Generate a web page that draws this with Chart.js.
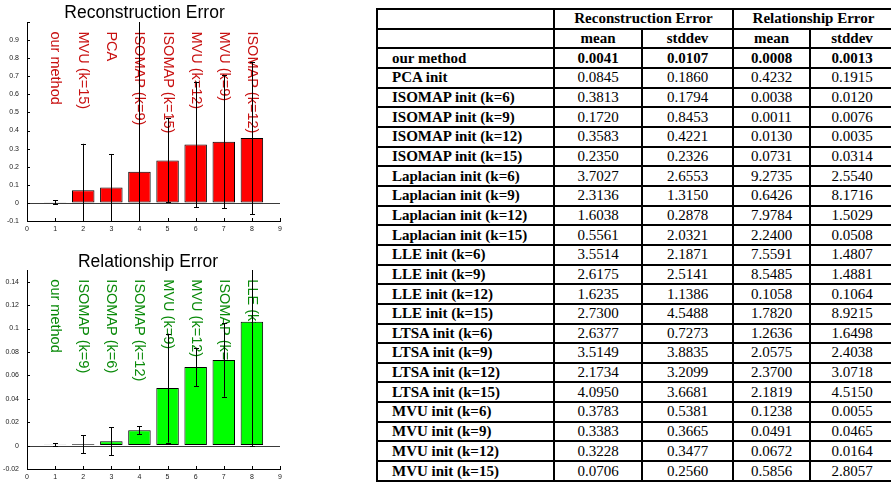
<!DOCTYPE html>
<html>
<head>
<meta charset="utf-8">
<script src="https://cdn.jsdelivr.net/npm/chart.js@4.4.1/dist/chart.umd.min.js"></script>
<style>
  html, body { margin: 0; padding: 0; background: #fff; width: 891px; height: 485px; overflow: hidden; }
  canvas { position: absolute; left: 0; }
  #recChart { top: 0; }
  #relChart { top: 240px; }
  table {
    position: absolute; left: 376px; top: 8px; width: 517px; height: 474px;
    border-collapse: collapse; table-layout: fixed;
    font-family: "Liberation Serif", "Times New Roman", serif; font-size: 15px; color: #000;
  }
  td { border: 2px solid #000; padding: 0; text-align: center; vertical-align: middle; line-height: 15px; }
  td.name { text-align: left; padding-left: 14px; font-weight: bold; }
  tr.head td { font-weight: bold; }
  tr.best td { font-weight: bold; }
</style>
</head>
<body>
<canvas id="recChart" width="290" height="240"></canvas>
<canvas id="relChart" width="290" height="245"></canvas>
<table id="results">
  <colgroup>
    <col style="width:177px"><col style="width:88px"><col style="width:91px"><col style="width:77px"><col style="width:84px">
  </colgroup>
  <tbody></tbody>
</table>
<script>
// Results table: one row per initialisation
const methods = [
  'our method', 'PCA init',
  'ISOMAP init (k=6)', 'ISOMAP init (k=9)', 'ISOMAP init (k=12)', 'ISOMAP init (k=15)',
  'Laplacian init (k=6)', 'Laplacian init (k=9)', 'Laplacian init (k=12)', 'Laplacian init (k=15)',
  'LLE init (k=6)', 'LLE init (k=9)', 'LLE init (k=12)', 'LLE init (k=15)',
  'LTSA init (k=6)', 'LTSA init (k=9)', 'LTSA init (k=12)', 'LTSA init (k=15)',
  'MVU init (k=6)', 'MVU init (k=9)', 'MVU init (k=12)', 'MVU init (k=15)'
];
const recMean = [0.0041, 0.0845, 0.3813, 0.1720, 0.3583, 0.2350, 3.7027, 2.3136, 1.6038, 0.5561,
                 3.5514, 2.6175, 1.6235, 2.7300, 2.6377, 3.5149, 2.1734, 4.0950, 0.3783, 0.3383, 0.3228, 0.0706];
const recStd  = [0.0107, 0.1860, 0.1794, 0.8453, 0.4221, 0.2326, 2.6553, 1.3150, 0.2878, 2.0321,
                 2.1871, 2.5141, 1.1386, 4.5488, 0.7273, 3.8835, 3.2099, 3.6681, 0.5381, 0.3665, 0.3477, 0.2560];
const relMean = [0.0008, 0.4232, 0.0038, 0.0011, 0.0130, 0.0731, 9.2735, 0.6426, 7.9784, 2.2400,
                 7.5591, 8.5485, 0.1058, 1.7820, 1.2636, 2.0575, 2.3700, 2.1819, 0.1238, 0.0491, 0.0672, 0.5856];
const relStd  = [0.0013, 0.1915, 0.0120, 0.0076, 0.0035, 0.0314, 2.5540, 8.1716, 1.5029, 0.0508,
                 1.4807, 1.4881, 0.1064, 8.9215, 1.6498, 2.4038, 3.0718, 4.5150, 0.0055, 0.0465, 0.0164, 2.8057];

// Bar charts: the eight best methods for each error, in ascending order
const recLabels = ['our method', 'MVU (k=15)', 'PCA', 'ISOMAP (k=9)', 'ISOMAP (k=15)', 'MVU (k=12)', 'MVU (k=9)', 'ISOMAP (k=12)'];
const recRows   = [0, 21, 1, 3, 5, 20, 19, 4];
const relLabels = ['our method', 'ISOMAP (k=9)', 'ISOMAP (k=6)', 'ISOMAP (k=12)', 'MVU (k=9)', 'MVU (k=12)', 'ISOMAP (k=15)', 'LLE (k=12)'];
const relRows   = [0, 3, 2, 4, 19, 20, 5, 12];
const barPositions = [1, 2, 3, 4, 5, 6, 7, 8];
const xTickValues = [0, 1, 2, 3, 4, 5, 6, 7, 8, 9];

// ---- table ----
const tbody = document.querySelector('#results tbody');
function addRow(cells, cls) {
  const tr = document.createElement('tr');
  if (cls) tr.className = cls;
  cells.forEach(c => {
    const td = document.createElement('td');
    td.textContent = c.text;
    if (c.span) td.colSpan = c.span;
    if (c.cls) td.className = c.cls;
    tr.appendChild(td);
  });
  tbody.appendChild(tr);
}
addRow([{text: ''}, {text: 'Reconstruction Error', span: 2}, {text: 'Relationship Error', span: 2}], 'head');
addRow([{text: ''}, {text: 'mean'}, {text: 'stddev'}, {text: 'mean'}, {text: 'stddev'}], 'head');
methods.forEach((m, i) => {
  addRow([
    {text: m, cls: 'name'},
    {text: recMean[i].toFixed(4)}, {text: recStd[i].toFixed(4)},
    {text: relMean[i].toFixed(4)}, {text: relStd[i].toFixed(4)}
  ], i === 0 ? 'best' : '');
});

// ---- chart plugins ----
const sans = '"Liberation Sans", Arial, Helvetica, sans-serif';

// rotated method names above the bars
const barNames = {
  id: 'barNames',
  beforeDatasetsDraw(chart, args, o) {
    const {ctx, scales: {x, y}} = chart;
    ctx.save();
    ctx.fillStyle = o.color;
    ctx.font = '14.5px ' + sans;
    ctx.textAlign = 'left';
    ctx.textBaseline = 'middle';
    o.labels.forEach((t, i) => {
      ctx.save();
      ctx.translate(x.getPixelForValue(barPositions[i]), y.getPixelForValue(o.at));
      ctx.rotate(Math.PI / 2);
      ctx.fillText(t, 0, 0);
      ctx.restore();
    });
    ctx.restore();
  }
};

// zero line under the bars
const zeroLine = {
  id: 'zeroLine',
  beforeDatasetsDraw(chart) {
    const {ctx, chartArea: a, scales: {y}} = chart;
    const py = Math.round(y.getPixelForValue(0)) + 0.5;
    ctx.save();
    ctx.strokeStyle = '#3a3a3a';
    ctx.lineWidth = 1.2;
    ctx.beginPath();
    ctx.moveTo(a.left, py);
    ctx.lineTo(a.right, py);
    ctx.stroke();
    ctx.restore();
  }
};

// +/- one standard deviation, clipped to the axes
const errorBars = {
  id: 'errorBars',
  afterDatasetsDraw(chart, args, o) {
    const {ctx, chartArea: a, scales: {x, y}} = chart;
    const ds = chart.data.datasets[0];
    ctx.save();
    ctx.beginPath();
    ctx.rect(a.left, a.top, a.right - a.left, a.bottom - a.top);
    ctx.clip();
    ctx.strokeStyle = '#000';
    ctx.lineWidth = 1;
    ds.data.forEach((p, i) => {
      const s = o.err[i];
      const px = Math.round(x.getPixelForValue(p.x)) + 0.5;
      const lo = p.y - s, hi = p.y + s;
      const pyLo = y.getPixelForValue(Math.max(lo, y.min));
      const pyHi = y.getPixelForValue(Math.min(hi, y.max));
      ctx.beginPath();
      ctx.moveTo(px, pyLo);
      ctx.lineTo(px, pyHi);
      ctx.stroke();
      [lo, hi].forEach(v => {
        if (v >= y.min && v <= y.max) {
          const py = Math.round(y.getPixelForValue(v)) + 0.5;
          ctx.beginPath();
          ctx.moveTo(px - 2.5, py);
          ctx.lineTo(px + 2.5, py);
          ctx.stroke();
        }
      });
    });
    ctx.restore();
  }
};

// inward tick marks and the chart heading
const axesExtras = {
  id: 'axesExtras',
  afterDraw(chart, args, o) {
    const {ctx, chartArea: a, scales: {x, y}} = chart;
    ctx.save();
    ctx.strokeStyle = '#000';
    ctx.lineWidth = 1;
    y.ticks.forEach(t => {
      const py = Math.round(y.getPixelForValue(t.value)) + 0.5;
      ctx.beginPath();
      ctx.moveTo(a.left, py);
      ctx.lineTo(a.left + 3, py);
      ctx.stroke();
    });
    xTickValues.forEach(v => {
      const px = Math.round(x.getPixelForValue(v)) + 0.5;
      ctx.beginPath();
      ctx.moveTo(px, a.bottom);
      ctx.lineTo(px, a.bottom - 3);
      ctx.stroke();
    });
    ctx.fillStyle = '#000';
    ctx.font = '17.5px ' + sans;
    ctx.textAlign = 'center';
    ctx.textBaseline = 'middle';
    ctx.fillText(o.title, o.titleX, o.titleY);
    ctx.restore();
  }
};

function fmt(v) { return String(Number(v.toFixed(3))); }

function makeChart(id, labels, rows, mean, std, color, textColor, yMin, yMax, step, labelAt, title, titleX, titleY, top, xHeight, hideTop) {
  const values = rows.map(r => mean[r]);
  const errs = rows.map(r => std[r]);
  return new Chart(document.getElementById(id), {
    type: 'bar',
    data: {
      datasets: [{
        data: barPositions.map((p, i) => ({x: p, y: values[i]})),
        backgroundColor: color,
        borderColor: '#000',
        borderWidth: 1,
        borderSkipped: false,
        barPercentage: 0.8,
        categoryPercentage: 1
      }]
    },
    options: {
      responsive: false,
      animation: false,
      devicePixelRatio: 1,
      layout: {padding: {top: top, right: 10, left: 0, bottom: 0}},
      plugins: {
        legend: {display: false},
        tooltip: {enabled: false},
        title: {display: false},
        barNames: {labels: labels, color: textColor, at: labelAt},
        errorBars: {err: errs},
        axesExtras: {title: title, titleX: titleX, titleY: titleY}
      },
      scales: {
        x: {
          type: 'linear', min: 0, max: 9, offset: false,
          afterFit(s) { s.height = xHeight; },
          grid: {display: true, drawOnChartArea: false, drawTicks: false, offset: false},
          border: {display: true, color: '#000', width: 1},
          ticks: {stepSize: 1, padding: 4, color: '#222', font: {size: 7, family: sans}, maxRotation: 0}
        },
        y: {
          min: yMin, max: yMax,
          afterFit(s) { s.width = 27; },
          grid: {display: true, drawOnChartArea: false, drawTicks: false},
          border: {display: true, color: '#000', width: 1},
          ticks: {
            stepSize: step, includeBounds: false, padding: 8, color: '#222',
            font: {size: 7, family: sans},
            callback: v => (hideTop && Math.abs(v - yMax) < 1e-9) ? '' : fmt(v)
          }
        }
      }
    },
    plugins: [zeroLine, barNames, errorBars, axesExtras]
  });
}

makeChart('recChart', recLabels, recRows, recMean, recStd, '#ff0000', '#c81010',
  -0.1, 1.0, 0.1, 0.948, 'Reconstruction Error', 144.5, 13, 22, 19, true);
makeChart('relChart', relLabels, relRows, relMean, relStd, '#00ff00', '#0a8a0a',
  -0.02, 0.15, 0.02, 0.142, 'Relationship Error', 148, 22, 30, 16, false);
</script>
</body>
</html>
